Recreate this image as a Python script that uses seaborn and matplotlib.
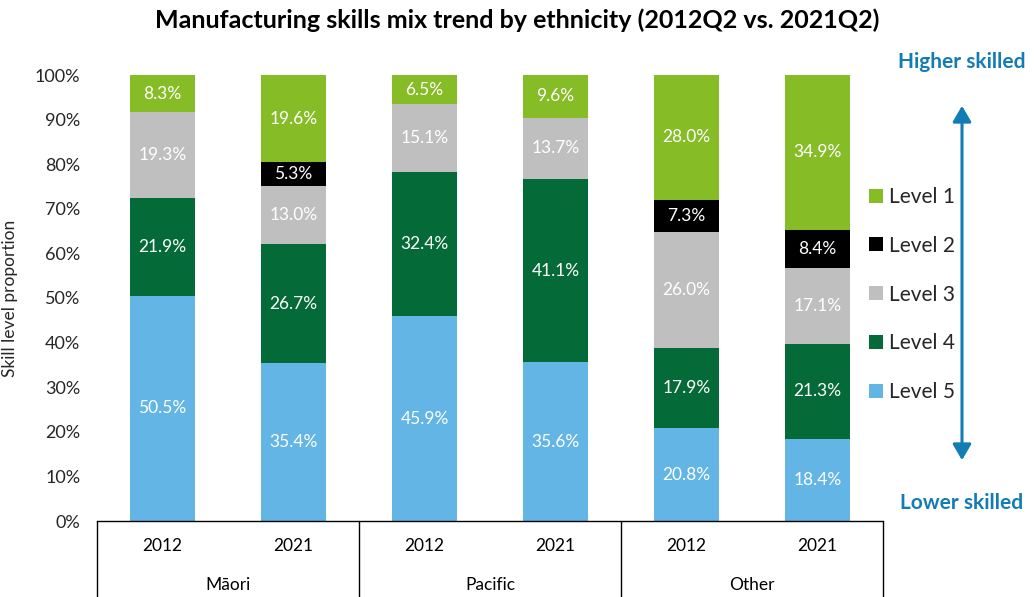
import numpy as np
import pandas as pd
import matplotlib
matplotlib.use("Agg")
import matplotlib.pyplot as plt
import matplotlib.transforms as mtransforms
from matplotlib.patches import Patch
import seaborn as sns

# ---- data ----
groups = ["Māori", "Pacific", "Other"]
years = ["2012", "2021"]
levels = ["Level 1", "Level 2", "Level 3", "Level 4", "Level 5"]
level1 = [8.3, 19.6, 6.5, 9.6, 28.0, 34.9]
level2 = [0.0, 5.3, 0.0, 0.0, 7.3, 8.4]
level3 = [19.3, 13.0, 15.1, 13.7, 26.0, 17.1]
level4 = [21.9, 26.7, 32.4, 41.1, 17.9, 21.3]
level5 = [50.5, 35.4, 45.9, 35.6, 20.8, 18.4]
yticks = [0, 10, 20, 30, 40, 50, 60, 70, 80, 90, 100]

level_values = {"Level 1": level1, "Level 2": level2, "Level 3": level3,
                "Level 4": level4, "Level 5": level5}
colors = {"Level 1": "#86BC25", "Level 2": "#000000", "Level 3": "#BFBFBF",
          "Level 4": "#046A38", "Level 5": "#62B5E5"}
blue = "#137CB5"

sns.set_theme(style="white")
plt.rcParams["font.family"] = ["Lato", "DejaVu Sans"]

bars = [f"{g} {y}" for g in groups for y in years]
stack_order = ["Level 5", "Level 4", "Level 3", "Level 2", "Level 1"]  # bottom -> top

rows = []
for i, b in enumerate(bars):
    cum = 0.0
    for lv in stack_order:
        v = level_values[lv][i]
        rows.append({"bar": b, "level": lv, "value": v, "bottom": cum, "top": cum + v})
        cum += v
df = pd.DataFrame(rows)

fig = plt.figure(figsize=(10.34, 5.97), dpi=100)
ax = fig.add_axes([97 / 1034, 76 / 597, 786 / 1034, 446 / 597])

# draw cumulative tops from the highest level down so each overlays the previous
for lv in reversed(stack_order):
    sub = df[df["level"] == lv]
    sns.barplot(data=sub, x="bar", y="top", order=bars, color=colors[lv],
                width=0.5, saturation=1, errorbar=None, linewidth=0, ax=ax)

# segment labels
for _, r in df.iterrows():
    if r["value"] > 0:
        ax.text(bars.index(r["bar"]), r["bottom"] + r["value"] / 2, f"{r['value']:.1f}%",
                ha="center", va="center", color="white", fontsize=12.5)

ax.set_xlim(-0.5, 5.5)
ax.set_ylim(0, 100)
ax.set_yticks(yticks)
ax.set_yticklabels([f"{t}%" for t in yticks], fontsize=13)
ax.tick_params(axis="y", length=0, pad=12)
ax.tick_params(axis="x", bottom=False, labelbottom=False)
ax.set_xlabel("")
ax.set_ylabel("Skill level proportion", fontsize=12.5)
ax.yaxis.set_label_coords(-0.1, 0.5)
for s in ["left", "top", "right"]:
    ax.spines[s].set_visible(False)
ax.spines["bottom"].set_color("black")
ax.spines["bottom"].set_linewidth(1)

# category box below axis
trans = mtransforms.blended_transform_factory(ax.transData, ax.transAxes)
for xv in [-0.5, 1.5, 3.5, 5.5]:
    ax.plot([xv, xv], [0, -0.3], color="black", lw=1, transform=trans, clip_on=False)
for i, b in enumerate(bars):
    ax.text(i, -0.056, years[i % 2], transform=trans, ha="center", va="center",
            fontsize=12.5, color="black")
for gi, g in enumerate(groups):
    ax.text(gi * 2 + 0.5, -0.1435, g, transform=trans, ha="center", va="center",
            fontsize=12.5, color="black")

# title
fig.text(0.5, 1 - 20 / 597, "Manufacturing skills mix trend by ethnicity (2012Q2 vs. 2021Q2)",
         ha="center", va="center", fontsize=18, fontweight="bold", color="black")

# legend
handles = [Patch(facecolor=colors[lv], edgecolor="none", label=lv) for lv in levels]
fig.legend(handles=handles, loc="upper left", bbox_to_anchor=(869 / 1034, 1 - 187 / 597),
           frameon=False, fontsize=15, handlelength=0.65, handleheight=0.65,
           handletextpad=0.3, labelspacing=1.38, borderpad=0, borderaxespad=0)

# skill arrow and labels
fig.patches.append(matplotlib.patches.FancyArrowPatch(
    (962 / 1034, 1 - 463 / 597), (962 / 1034, 1 - 103 / 597),
    transform=fig.transFigure, arrowstyle="<|-|>,head_length=6,head_width=3.5",
    color=blue, lw=2.2, mutation_scale=1.6))
fig.text(962 / 1034, 1 - 62 / 597, "Higher skilled", ha="center", va="center",
         fontsize=15, fontweight="bold", color=blue)
fig.text(962 / 1034, 1 - 503 / 597, "Lower skilled", ha="center", va="center",
         fontsize=15, fontweight="bold", color=blue)

fig.savefig("out.png", dpi=100)
